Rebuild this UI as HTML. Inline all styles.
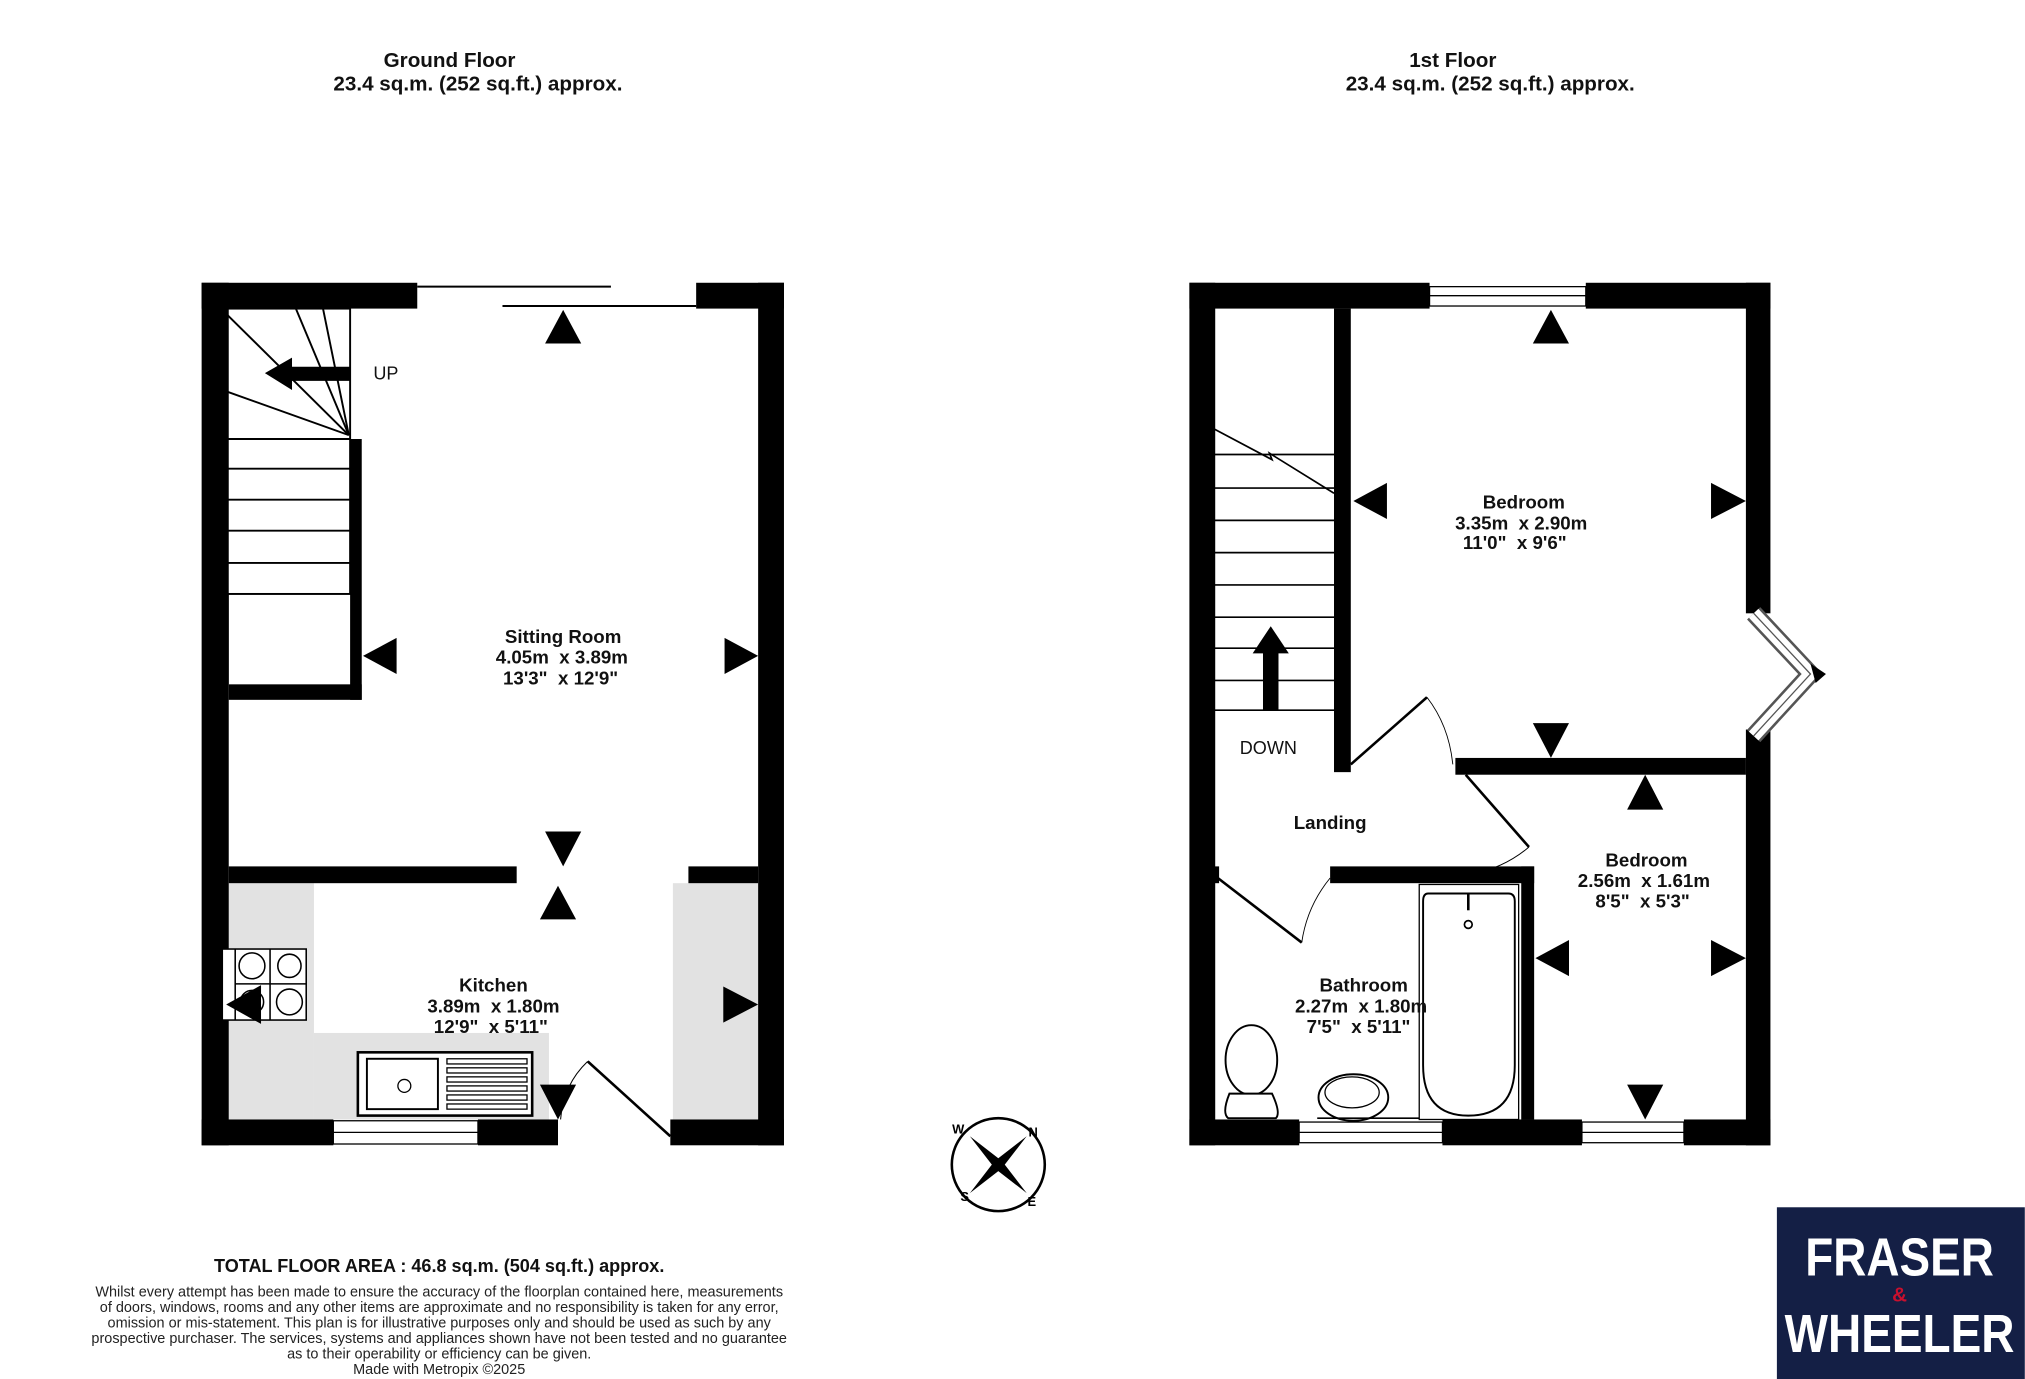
<!DOCTYPE html>
<html><head><meta charset="utf-8"><style>
html,body{margin:0;padding:0;background:#fff}
svg{display:block}
text{font-family:"Liberation Sans",sans-serif;white-space:pre}
</style></head><body>
<svg width="2025" height="1379" viewBox="0 0 1568 1068" xmlns="http://www.w3.org/2000/svg" xml:space="preserve">
<rect width="1568" height="1068" fill="#fff"/>
<g font-weight="bold" font-size="16" text-anchor="middle" fill="#111">
<text x="348" y="52">Ground Floor</text>
<text x="370" y="70">23.4 sq.m. (252 sq.ft.) approx.</text>
<text x="1125" y="52">1st Floor</text>
<text x="1154" y="70">23.4 sq.m. (252 sq.ft.) approx.</text>
</g>

<!-- GROUND FLOOR -->
<g fill="#e2e2e2">
<rect x="177" y="684" width="66" height="183"/>
<rect x="243" y="800" width="182" height="67"/>
<rect x="521" y="684" width="66" height="183"/>
</g>
<g fill="#000">
<rect x="156" y="219" width="21" height="668"/>
<rect x="156" y="219" width="167" height="20"/>
<rect x="539" y="219" width="68" height="20"/>
<rect x="587" y="219" width="20" height="668"/>
<rect x="156" y="867" width="102" height="20"/>
<rect x="370" y="867" width="62" height="20"/>
<rect x="519" y="867" width="88" height="20"/>
<rect x="271" y="340" width="9" height="202"/>
<rect x="177" y="530" width="103" height="12"/>
<rect x="172" y="460" width="5" height="70"/>
<rect x="177" y="671" width="223" height="13"/>
<rect x="533" y="671" width="54" height="13"/>
</g>
<g stroke="#000" fill="none" stroke-width="1.5">
<line x1="323" y1="222" x2="473" y2="222"/>
<line x1="389" y1="237" x2="539" y2="237"/>
<rect x="172" y="239" width="99" height="221"/>
<line x1="172" y1="340" x2="271" y2="340"/>
<line x1="172" y1="363" x2="271" y2="363"/>
<line x1="172" y1="387" x2="271" y2="387"/>
<line x1="172" y1="411" x2="271" y2="411"/>
<line x1="172" y1="436" x2="271" y2="436"/>
<line x1="270" y1="337" x2="172" y2="240"/>
<line x1="270" y1="337" x2="229" y2="239"/>
<line x1="270" y1="337" x2="250" y2="239"/>
<line x1="270" y1="337" x2="172" y2="302"/>
<rect x="258" y="868" width="112" height="18" stroke-width="1"/>
<line x1="258" y1="877" x2="370" y2="877" stroke-width="1"/>
<line x1="455" y1="822" x2="519" y2="880" stroke-width="2"/>
<path d="M455 822 Q436 840 434 867" stroke-width="0.8"/>
</g>
<polygon points="205,289 226,277 226,284 271,284 271,295 226,295 226,302" fill="#000"/>
<text x="289" y="294" font-size="14" fill="#111">UP</text>
<!-- hob -->
<g stroke="#000" fill="#fff" stroke-width="1.2">
<rect x="172" y="735" width="65" height="55"/>
<line x1="182" y1="735" x2="182" y2="790"/>
<line x1="209" y1="735" x2="209" y2="790"/>
<line x1="182" y1="762" x2="237" y2="762"/>
<circle cx="195" cy="748" r="10"/><circle cx="224" cy="748" r="9"/>
<circle cx="195" cy="776" r="9"/><circle cx="224" cy="776" r="10"/>
</g>
<!-- sink -->
<g stroke="#000" fill="#fff">
<rect x="277" y="815" width="135" height="49" stroke-width="2"/>
<rect x="284" y="820" width="55" height="39" stroke-width="1.5"/>
<circle cx="313" cy="841" r="5" fill="none"/>
<g stroke-width="1"><rect x="346" y="820" width="62" height="4"/><rect x="346" y="827" width="62" height="4"/><rect x="346" y="834" width="62" height="4"/><rect x="346" y="841" width="62" height="4"/><rect x="346" y="848" width="62" height="4"/><rect x="346" y="855" width="62" height="4"/></g>
</g>
<g fill="#000">
<polygon points="436,240 422,266 450,266"/>
<polygon points="281,508 307,494 307,522"/>
<polygon points="587,508 561,494 561,522"/>
<polygon points="436,671 422,644 450,644"/>
<polygon points="432,686 418,712 446,712"/>
<polygon points="175,778 202,763 202,793"/>
<polygon points="587,778 560,764 560,792"/>
<polygon points="432,867 418,840 446,840"/>
</g>
<g font-weight="bold" font-size="14.5" text-anchor="middle" fill="#111">
<text x="436" y="498">Sitting Room</text><text x="435" y="514">4.05m  x 3.89m</text><text x="434" y="530">13'3"  x 12'9"</text>
<text x="382" y="768">Kitchen</text><text x="382" y="784">3.89m  x 1.80m</text><text x="380" y="800">12'9"  x 5'11"</text>
</g>

<!-- FIRST FLOOR -->
<g fill="#000">
<rect x="921" y="219" width="20" height="668"/>
<rect x="921" y="219" width="186" height="20"/>
<rect x="1228" y="219" width="143" height="20"/>
<rect x="1352" y="219" width="19" height="256"/>
<rect x="1352" y="565" width="19" height="322"/>
<rect x="921" y="867" width="85" height="20"/>
<rect x="1117" y="867" width="108" height="20"/>
<rect x="1304" y="867" width="67" height="20"/>
<rect x="1033" y="239" width="13" height="359"/>
<rect x="1127" y="587" width="225" height="13"/>
<rect x="1030" y="671" width="158" height="13"/>
<rect x="1178" y="671" width="10" height="196"/>
<rect x="939" y="671" width="5" height="13"/>
</g>
<g stroke="#000" fill="none" stroke-width="1.3">
<rect x="1107" y="222" width="121" height="15" stroke-width="1"/>
<line x1="1107" y1="229" x2="1228" y2="229" stroke-width="1"/>
<rect x="1006" y="869" width="111" height="16" stroke-width="1"/>
<line x1="1006" y1="877" x2="1117" y2="877" stroke-width="1"/>
<rect x="1225" y="869" width="79" height="16" stroke-width="1"/>
<line x1="1225" y1="877" x2="1304" y2="877" stroke-width="1"/>
<polyline points="1358,475 1402,522 1358,570" stroke-width="14" stroke="#555"/>
<polyline points="1358,475 1402,522 1358,570" stroke-width="10" stroke="#fff"/>
<polyline points="1358,475 1402,522 1358,570" stroke-width="1" stroke="#555"/>
<line x1="936" y1="330" x2="936" y2="550"/>
<line x1="936" y1="550" x2="1033" y2="550"/>
<line x1="936" y1="352" x2="1033" y2="352"/>
<line x1="936" y1="378" x2="1033" y2="378"/>
<line x1="936" y1="403" x2="1033" y2="403"/>
<line x1="936" y1="428" x2="1033" y2="428"/>
<line x1="936" y1="453" x2="1033" y2="453"/>
<line x1="936" y1="478" x2="1033" y2="478"/>
<line x1="936" y1="502" x2="1033" y2="502"/>
<line x1="936" y1="527" x2="1033" y2="527"/>
<polyline points="936,330 985,356 983,351 1033,382"/>
<line x1="1046" y1="592" x2="1105" y2="540" stroke-width="2"/>
<path d="M1105 540 Q1122 562 1125 592" stroke-width="0.7"/>
<line x1="1135" y1="600" x2="1184" y2="656" stroke-width="2"/>
<path d="M1184 656 Q1165 672 1140 677" stroke-width="0.7"/>
<line x1="943" y1="680" x2="1008" y2="730" stroke-width="2"/>
<path d="M1008 730 Q1012 702 1030 680" stroke-width="0.7"/>
<rect x="1099" y="685" width="77" height="182" stroke-width="1"/>
<path d="M1106 692 L1168 692 Q1173 692 1173 698 L1173 825 Q1173 864 1137 864 Q1102 864 1102 825 L1102 698 Q1102 692 1106 692 Z" stroke-width="1.5"/>
<circle cx="1137" cy="716" r="3"/>
<line x1="1137" y1="692" x2="1137" y2="705" stroke-width="2"/>
<ellipse cx="969" cy="821" rx="20" ry="27" stroke-width="1.5"/>
<path d="M952 847 Q946 862 951 866 L988 866 Q992 862 985 847 Z" stroke-width="1.5" fill="#fff"/>
<ellipse cx="1048" cy="850" rx="27" ry="18" stroke-width="1.5"/>
<ellipse cx="1047" cy="846" rx="21" ry="12" stroke-width="1"/>
<line x1="1020" y1="866" x2="1099" y2="866"/>
</g>
<polygon points="1402,514 1414,522 1406,529" fill="#000"/>
<rect x="978" y="505" width="12" height="45" fill="#000"/>
<polygon points="984,485 970,506 998,506" fill="#000"/>
<text x="960" y="584" font-size="14" fill="#111">DOWN</text>
<g fill="#000">
<polygon points="1201,240 1187,266 1215,266"/>
<polygon points="1048,388 1074,374 1074,402"/>
<polygon points="1352,388 1325,374 1325,402"/>
<polygon points="1201,587 1187,560 1215,560"/>
<polygon points="1274,600 1260,627 1288,627"/>
<polygon points="1189,742 1215,728 1215,756"/>
<polygon points="1352,742 1325,728 1325,756"/>
<polygon points="1274,867 1260,840 1288,840"/>
</g>
<g font-weight="bold" font-size="14.5" text-anchor="middle" fill="#111">
<text x="1180" y="394">Bedroom</text><text x="1178" y="410">3.35m  x 2.90m</text><text x="1173" y="425">11'0"  x 9'6"</text>
<text x="1030" y="642">Landing</text>
<text x="1275" y="671">Bedroom</text><text x="1273" y="687">2.56m  x 1.61m</text><text x="1272" y="703">8'5"  x 5'3"</text>
<text x="1056" y="768">Bathroom</text><text x="1054" y="784">2.27m  x 1.80m</text><text x="1052" y="800">7'5"  x 5'11"</text>
</g>

<!-- compass -->
<g>
<circle cx="773" cy="902" r="36" fill="none" stroke="#000" stroke-width="2"/>
<polygon points="795,880 778,902 795,924 773,907 751,924 768,902 751,880 773,897" fill="#000"/>
<g font-size="10" font-weight="bold" fill="#000" text-anchor="middle">
<text x="800" y="880">N</text><text x="742" y="878">W</text><text x="747" y="930">S</text><text x="799" y="934">E</text>
</g>
</g>

<!-- footer -->
<text x="340" y="985" font-size="14" font-weight="bold" text-anchor="middle" fill="#111">TOTAL FLOOR AREA : 46.8 sq.m. (504 sq.ft.) approx.</text>
<g font-size="11.2" text-anchor="middle" fill="#222">
<text x="340" y="1004">Whilst every attempt has been made to ensure the accuracy of the floorplan contained here, measurements</text>
<text x="340" y="1016">of doors, windows, rooms and any other items are approximate and no responsibility is taken for any error,</text>
<text x="340" y="1028">omission or mis-statement. This plan is for illustrative purposes only and should be used as such by any</text>
<text x="340" y="1040">prospective purchaser. The services, systems and appliances shown have not been tested and no guarantee</text>
<text x="340" y="1052">as to their operability or efficiency can be given.</text>
<text x="340" y="1064">Made with Metropix ©2025</text>
</g>

<!-- logo -->
<rect x="1376" y="935" width="192" height="133" fill="#141f45"/>
<g font-weight="bold" fill="#fff" text-anchor="middle">
<text x="1471" y="988" font-size="42" textLength="146" lengthAdjust="spacingAndGlyphs">FRASER</text>
<text x="1471" y="1008" font-size="16" fill="#c8102e">&amp;</text>
<text x="1471" y="1047" font-size="42" textLength="178" lengthAdjust="spacingAndGlyphs">WHEELER</text>
</g>
</svg>
</body></html>
